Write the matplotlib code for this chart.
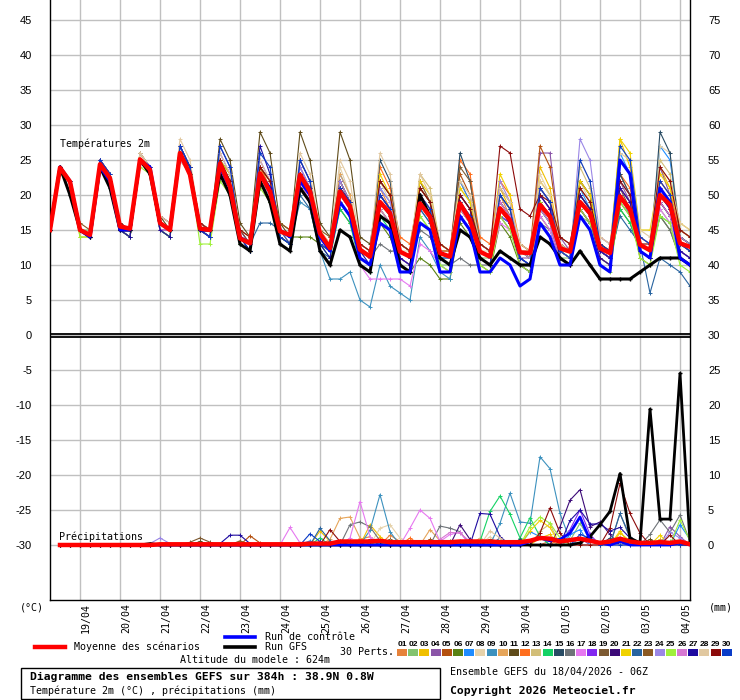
import numpy as np
import matplotlib
matplotlib.use('Agg')
import matplotlib.pyplot as plt
from matplotlib.lines import Line2D
from matplotlib.patches import Rectangle

# ---- data (6h steps from 18/04 06Z, 384h) ----
dates = ['19/04', '20/04', '21/04', '22/04', '23/04', '24/04', '25/04', '26/04',
         '27/04', '28/04', '29/04', '30/04', '01/05', '02/05', '03/05', '04/05']

member_colors = ['#E6823A', '#82C36E', '#F0C000', '#8B55A8', '#B4500F', '#5A8214',
                 '#1E8CFF', '#E6D2AA', '#3C91BE', '#E6A55A', '#5F4B19', '#FF6E1E',
                 '#D2BE78', '#14D264', '#284B64', '#6E7378', '#E678F0', '#8228F0',
                 '#7D5A32', '#3C0A78', '#F0D200', '#2864A0', '#8C5A23', '#9B87E6',
                 '#A0F03C', '#D778D2', '#1E0AA0', '#E1C8A0', '#8C0A0A', '#0A3CC8']

# temperature 2m, one string per member: t0 | then per day 12Z 18Z 00Z 06Z
temp_members = [
    "15 | 24 22 15 14 | 25 22 16 15 | 25 23 16 15 | 26 24 16 15 | 25 22 14 13 | 24 21 15 14 | 25 22 15 13 | 22 19 12 11 | 21 18 12 11 | 20 18 12 12 | 22 19 13 12 | 20 17 12 11 | 21 19 13 12 | 18 16 12 11 | 23 20 13 12 | 21 19 14 13",
    "15 | 24 22 15 15 | 24 22 15 15 | 25 23 16 15 | 26 23 15 14 | 23 21 14 13 | 22 19 14 13 | 21 19 13 12 | 19 17 11 10 | 18 16 11 10 | 17 15 10 10 | 18 16 11 11 | 17 15 11 10 | 18 16 11 11 | 17 16 12 11 | 19 17 12 11 | 18 16 11 10",
    "15 | 24 22 14 14 | 25 23 15 15 | 26 24 16 15 | 27 24 16 15 | 25 22 14 12 | 24 21 15 14 | 24 21 14 12 | 22 19 12 11 | 20 18 12 11 | 21 19 13 12 | 19 17 12 11 | 21 18 12 11 | 24 21 13 12 | 22 20 13 12 | 28 24 14 13 | 24 21 14 13",
    "15 | 24 22 15 14 | 25 23 15 15 | 25 24 16 15 | 26 24 16 15 | 25 22 14 13 | 23 20 15 14 | 22 20 14 12 | 21 18 12 11 | 19 17 11 10 | 20 18 12 11 | 18 16 12 11 | 17 15 11 11 | 26 26 14 12 | 20 18 12 11 | 22 19 13 12 | 24 20 14 13",
    "15 | 24 22 15 14 | 24 22 16 15 | 25 23 16 15 | 26 23 15 14 | 24 21 14 13 | 22 19 15 14 | 23 20 14 13 | 21 18 12 11 | 20 18 13 12 | 19 17 12 12 | 23 20 13 12 | 18 16 12 12 | 27 24 14 13 | 19 17 12 11 | 20 18 13 12 | 21 19 14 13",
    "15 | 24 22 15 14 | 24 22 15 14 | 25 23 15 14 | 26 23 15 14 | 23 21 14 13 | 22 20 15 14 | 14 14 13 12 | 18 16 11 10 | 16 14 10 9 | 11 10 8 8 | 16 14 10 9 | 16 14 10 9 | 17 15 11 10 | 18 16 11 10 | 18 16 12 11 | 17 15 11 10",
    "15 | 24 22 15 14 | 25 23 15 15 | 25 23 16 15 | 26 24 16 15 | 24 22 14 13 | 23 20 15 14 | 22 20 14 12 | 23 20 12 11 | 21 19 12 11 | 18 16 11 11 | 22 19 12 11 | 19 17 12 11 | 20 18 12 11 | 21 18 12 11 | 26 23 13 12 | 27 25 15 14",
    "15 | 24 22 15 14 | 24 23 15 15 | 26 24 16 15 | 27 24 16 15 | 24 22 14 13 | 24 21 15 14 | 24 21 14 13 | 24 20 12 11 | 22 19 12 12 | 22 19 13 12 | 20 18 12 12 | 20 18 12 12 | 23 20 13 12 | 22 19 13 12 | 23 20 13 13 | 27 26 15 14",
    "15 | 24 22 15 14 | 24 22 15 14 | 25 23 15 14 | 26 23 15 14 | 23 20 13 12 | 22 20 14 13 | 19 18 12 8 | 8 9 5 4 | 10 7 6 5 | 14 12 9 8 | 19 17 11 10 | 17 16 11 10 | 18 16 12 11 | 19 17 11 10 | 20 17 12 11 | 19 17 13 12",
    "15 | 23 22 15 14 | 24 22 16 15 | 25 23 16 15 | 25 23 16 15 | 24 22 15 14 | 24 21 16 15 | 21 20 14 13 | 23 20 13 12 | 19 17 12 11 | 20 18 12 11 | 18 17 12 11 | 20 18 13 12 | 19 17 13 12 | 21 19 13 12 | 20 18 14 13 | 22 20 15 14",
    "15 | 24 22 15 14 | 24 23 16 15 | 26 24 17 15 | 27 24 16 15 | 28 25 16 14 | 29 26 16 14 | 29 25 16 14 | 29 25 14 13 | 22 20 13 12 | 20 18 13 12 | 19 17 12 11 | 18 16 12 11 | 20 18 12 11 | 19 17 12 11 | 21 19 13 12 | 20 18 13 12",
    "15 | 24 22 15 14 | 25 23 16 15 | 25 23 16 15 | 26 24 16 15 | 24 21 14 13 | 24 21 15 13 | 23 21 14 12 | 21 19 12 11 | 24 21 14 13 | 21 19 13 12 | 25 23 14 13 | 22 20 13 12 | 20 18 12 12 | 22 20 14 13 | 23 21 14 13 | 22 20 15 14",
    "15 | 24 22 15 14 | 24 22 15 15 | 25 24 16 15 | 26 23 15 14 | 24 22 14 13 | 23 20 15 14 | 23 20 14 12 | 20 18 12 11 | 20 18 12 11 | 23 21 13 12 | 21 19 12 11 | 20 18 12 11 | 19 17 12 12 | 24 21 13 12 | 22 20 13 12 | 25 23 15 14",
    "15 | 24 22 15 14 | 24 22 15 14 | 25 23 15 14 | 26 23 15 14 | 23 20 13 12 | 22 19 14 13 | 21 19 13 11 | 18 16 10 9 | 17 15 10 9 | 16 15 10 9 | 18 16 11 10 | 17 16 11 10 | 18 16 11 10 | 17 15 11 10 | 18 16 12 11 | 17 16 12 11",
    "15 | 24 22 15 14 | 25 23 15 15 | 25 24 16 15 | 27 24 16 15 | 25 23 15 13 | 24 22 15 14 | 23 21 14 12 | 22 19 12 11 | 25 22 13 12 | 21 19 12 11 | 26 22 13 12 | 20 18 12 11 | 21 19 12 11 | 22 20 12 11 | 23 20 12 11 | 29 26 14 13",
    "15 | 24 22 15 14 | 24 22 15 14 | 25 23 15 14 | 26 23 15 14 | 23 21 14 13 | 22 20 14 13 | 21 19 13 12 | 19 17 12 11 | 13 12 12 11 | 15 14 11 10 | 11 10 10 10 | 18 16 12 11 | 16 15 11 10 | 18 16 12 11 | 19 17 12 11 | 17 15 11 10",
    "15 | 24 22 15 14 | 24 22 15 14 | 25 23 16 15 | 26 23 15 14 | 24 21 14 13 | 22 20 15 13 | 22 20 13 12 | 19 17 10 8 | 8 8 8 7 | 13 12 10 9 | 17 15 11 10 | 16 15 11 10 | 17 15 11 10 | 18 16 11 10 | 20 18 12 11 | 18 16 12 11",
    "15 | 24 22 15 14 | 25 23 16 15 | 25 24 17 16 | 27 24 16 15 | 26 23 15 13 | 25 22 15 14 | 24 21 14 12 | 22 19 12 11 | 20 18 12 11 | 19 17 12 11 | 18 16 12 11 | 17 16 12 11 | 20 18 13 12 | 19 17 12 11 | 21 19 13 12 | 20 18 13 12",
    "15 | 24 22 15 14 | 24 22 15 15 | 25 23 16 15 | 26 23 15 15 | 25 22 15 13 | 24 22 16 15 | 23 21 14 13 | 21 19 13 12 | 22 20 13 12 | 22 19 12 11 | 24 22 13 12 | 21 19 12 11 | 19 17 12 11 | 20 18 12 11 | 21 18 11 10 | 19 17 13 12",
    "15 | 24 22 15 14 | 24 22 15 14 | 25 23 15 15 | 26 23 15 14 | 24 21 14 12 | 23 21 14 13 | 22 20 13 12 | 20 18 11 10 | 18 16 11 10 | 19 17 11 10 | 17 15 11 10 | 18 16 10 9 | 19 17 11 10 | 18 16 11 10 | 20 18 12 11 | 19 17 12 11",
    "15 | 24 22 15 14 | 25 23 15 15 | 26 24 16 15 | 26 24 16 15 | 25 23 15 14 | 24 22 15 14 | 23 21 14 13 | 21 19 12 11 | 23 20 13 12 | 22 20 13 12 | 21 19 12 11 | 23 20 12 11 | 22 20 12 11 | 22 20 13 12 | 28 26 15 15 | 23 21 16 15",
    "15 | 24 22 15 14 | 24 22 15 14 | 25 23 15 14 | 26 23 15 14 | 23 21 14 13 | 16 16 15 13 | 20 18 12 11 | 21 18 12 11 | 19 17 12 11 | 18 16 11 11 | 20 18 12 11 | 19 17 11 10 | 18 16 11 10 | 20 18 12 11 | 17 15 13 6 | 11 10 9 7",
    "15 | 24 22 16 15 | 24 23 16 15 | 25 24 17 16 | 27 24 16 15 | 25 22 15 14 | 24 22 16 15 | 23 21 15 14 | 22 19 13 12 | 20 18 13 12 | 21 19 13 12 | 20 18 13 12 | 19 17 13 12 | 21 19 13 12 | 20 18 13 12 | 21 19 13 12 | 21 19 14 13",
    "15 | 24 22 15 14 | 25 23 15 15 | 26 24 16 15 | 27 24 16 15 | 24 22 14 13 | 23 21 15 14 | 24 21 14 12 | 22 19 12 11 | 21 19 12 11 | 20 18 12 11 | 19 17 12 11 | 22 19 12 11 | 21 19 12 11 | 28 25 14 13 | 22 20 14 13 | 21 19 14 13",
    "15 | 24 22 14 14 | 24 22 15 14 | 24 23 15 14 | 25 23 13 13 | 22 20 13 12 | 21 19 14 13 | 21 19 13 12 | 19 17 11 10 | 18 16 10 9 | 17 15 10 9 | 18 16 10 9 | 17 15 10 9 | 19 17 11 10 | 18 16 10 9 | 19 17 11 10 | 17 16 10 9",
    "15 | 24 22 15 14 | 24 22 15 15 | 25 23 15 15 | 25 23 15 14 | 24 21 14 13 | 23 21 15 14 | 22 19 14 12 | 20 18 12 11 | 18 16 11 10 | 19 17 11 10 | 18 16 11 10 | 19 17 11 10 | 18 16 11 10 | 19 17 12 11 | 21 19 13 12 | 19 17 12 11",
    "15 | 24 22 15 14 | 25 23 15 14 | 25 23 15 14 | 27 24 15 14 | 27 24 14 12 | 27 23 14 13 | 25 22 13 11 | 21 19 12 10 | 20 18 11 10 | 19 17 11 10 | 20 18 11 10 | 18 16 11 10 | 20 18 11 10 | 20 18 12 11 | 21 19 12 11 | 20 18 12 11",
    "15 | 24 22 15 14 | 24 23 16 15 | 26 24 17 16 | 28 25 16 15 | 26 23 15 14 | 25 22 15 14 | 26 23 15 13 | 25 22 13 12 | 26 23 13 12 | 23 20 13 12 | 22 20 13 12 | 21 19 13 12 | 22 20 13 12 | 25 22 14 13 | 26 25 15 14 | 24 22 16 15",
    "15 | 24 22 15 14 | 24 22 16 15 | 25 24 16 15 | 26 24 16 15 | 25 22 15 14 | 24 22 15 14 | 23 21 14 13 | 21 19 13 12 | 22 20 13 12 | 21 19 13 12 | 20 18 13 12 | 27 26 18 17 | 20 19 14 13 | 21 19 13 12 | 22 20 13 13 | 24 22 15 14",
    "15 | 24 22 15 14 | 25 23 15 15 | 25 24 16 15 | 27 24 15 14 | 27 24 14 12 | 26 24 14 13 | 25 22 13 12 | 21 19 11 10 | 20 18 12 11 | 20 18 11 10 | 19 17 11 10 | 20 18 11 10 | 21 19 12 11 | 25 22 13 12 | 27 25 14 13 | 22 20 13 12",
]
temp_control = "15 | 24 22 15 14 | 24 22 15 15 | 25 24 16 15 | 26 23 15 15 | 24 21 14 13 | 23 21 15 14 | 22 20 14 12 | 19 17 11 10 | 16 15 9 9 | 16 15 9 9 | 17 15 9 9 | 11 10 7 8 | 16 14 10 10 | 17 15 10 9 | 25 23 12 11 | 21 19 11 10"
temp_gfs = "15 | 24 20 15 14 | 24 21 15 15 | 25 23 16 15 | 26 23 15 15 | 23 20 13 12 | 22 19 13 12 | 21 19 12 10 | 15 14 10 9 | 17 16 10 9 | 20 17 11 10 | 15 14 11 10 | 12 11 10 10 | 14 13 11 10 | 12 10 8 8 | 8 8 9 10 | 11 11 11 10"
temp_mean = [15, 23.9, 21.9, 15, 14.3, 24.4, 22.4, 15.5, 15.2, 25.1, 23.6, 16, 15, 26, 22.9,
             15.2, 15, 24.5, 21.2, 13.8, 13.1, 23.1, 20.5, 14.8, 14.3, 22.9, 20.5, 14.5,
             12.4, 20.5, 18.3, 12.2, 11.2, 19, 17.4, 11.9, 11.2, 18.8, 16.9, 11.7, 11.2,
             18.8, 16.4, 11.9, 11.2, 18.1, 16.4, 11.8, 11.7, 18.6, 16.9, 12.4, 11.9, 19,
             17.4, 12.4, 11.7, 19.8, 17.9, 12.9, 12.1, 20, 18.6, 13.1, 12.6]

# precipitation (mm per 6h), step:value, steps 1..64, zero elsewhere
precip_members = [
    "31:0.8 32:1.2 34:1.4 35:0.5 50:0.6 57:0.8",
    "52:0.6 53:3.1 54:0.8 62:0.5",
    "27:2.0 28:0.5 32:2.9 33:1.2 49:1.0 50:1.5 57:1.7 58:0.6 61:0.8",
    "41:0.6 53:1.0 62:2.6 63:1.2",
    "20:1.3 21:0.3 38:0.8 56:0.7",
    "40:0.5 44:0.8 58:0.6",
    "26:0.6 48:1.9 49:1.2 52:1.5 53:2.2 63:2.9 64:0.8",
    "33:2.4 34:2.9 35:1.0 44:1.2",
    "32:2.1 33:7.2 34:1.9 45:3.1 46:7.4 47:3.3 48:3.1 49:12.6 50:10.9 51:4.5 52:0.7",
    "28:0.8 29:3.8 30:4.0 31:1.0 38:2.2 39:0.6",
    "15:0.5 44:0.6 60:0.8",
    "30:0.6 36:1.0 51:1.0 61:0.5",
    "35:0.5 43:1.0 49:2.0 50:3.0",
    "27:1.0 43:0.5 44:4.8 45:7.0 46:4.4 47:1.0 48:3.9 49:1.2 57:1.0",
    "32:0.8 47:0.8 56:1.0",
    "30:2.9 31:3.3 32:2.6 33:0.6 39:2.7 40:2.4 41:1.9 57:4.5 58:1.0 60:1.5 61:3.6 62:1.8 63:4.3 64:0.5",
    "24:2.5 25:0.3 30:1.0 31:6.2 32:1.2 36:2.4 37:5.0 38:3.8 39:0.5 40:1.5 41:1.8",
    "52:2.2 53:5.0 54:1.5 61:0.6",
    "14:0.4 15:1.0 16:0.4 42:0.6",
    "41:2.9 42:0.8 51:2.6 52:6.4 53:7.9 54:2.6 55:3.3 56:1.5",
    "33:0.8 48:2.0 49:3.5 50:2.5 57:2.0 61:1.4",
    "27:2.4 28:0.6 45:1.0 57:4.5 58:1.2",
    "19:0.6 34:0.8 38:0.7",
    "10:0.2 11:1.0 12:0.2 62:1.8 63:1.0",
    "48:2.6 49:4.0 50:3.1 51:1.0 63:3.6 64:0.6",
    "39:0.8 40:1.8 41:1.7 42:0.5",
    "17:0.2 18:1.4 19:1.4 20:0.2 43:4.5 44:4.4 45:1.2 52:3.5 53:5.0 54:3.0 55:3.0 56:2.0 57:2.5 58:1.0",
    "34:0.6 44:2.0 45:1.0",
    "28:2.2 29:0.5 49:1.7 50:5.3 51:1.7 56:2.4 57:8.8 58:4.5 59:1.7 62:1.4",
    "26:1.6 27:0.5 53:1.5 54:1.0",
]
precip_control = "48:0.5 49:1.0 50:0.6 51:0.8 52:1.7 53:4.0 54:0.7 55:0.3 57:0.5 63:0.3"
precip_gfs = "10:0.2 53:0.3 54:1.2 55:2.9 56:4.8 57:10.2 58:1.0 59:0.3 60:19.4 61:3.7 62:3.7 63:24.5 64:0.3"
precip_mean = [0, 0, 0, 0, 0, 0, 0, 0, 0, 0,
               0.1, 0.1, 0.1, 0.1, 0.1, 0.1, 0.1, 0.1, 0.1, 0.1, 0.1, 0.1, 0.1, 0.1, 0.1,
               0.2, 0.2, 0.2, 0.5, 0.5, 0.5, 0.5, 0.6,
               0.4, 0.4, 0.4, 0.4, 0.4, 0.4, 0.4, 0.5, 0.5, 0.5, 0.5, 0.4, 0.4, 0.4,
               0.6, 1.0, 0.9, 0.5, 0.7, 0.9, 0.6, 0.3, 0.5, 0.9, 0.5, 0.3, 0.3, 0.4,
               0.3, 0.5, 0.1]


def parse(s):
    return np.array([float(v) for v in s.replace('|', ' ').split()])


def sparse(s, n=64):
    arr = np.zeros(n)
    for item in s.split():
        step, val = item.split(':')
        arr[int(step) - 1] = float(val)
    return arr


W, H = 740, 700
RR0 = -30  # precipitation zero sits at -30 on the temperature scale
MONO = 'DejaVu Sans Mono'

fig = plt.figure(figsize=(W / 100, H / 100), dpi=100)
ax = fig.add_axes([50 / W, 100 / H, 640 / W, 600 / H])

t_tt = np.arange(65)
t_rr = np.arange(1, 65)

for k in range(30):
    c = member_colors[k]
    ax.plot(t_tt, parse(temp_members[k]), color=c, lw=0.8, marker='+', ms=3.5, mew=0.7, zorder=2)
    ax.plot(t_rr, sparse(precip_members[k]) + RR0, color=c, lw=0.8, marker='+', ms=3.5, mew=0.7, zorder=2)

ax.plot(t_tt, parse(temp_gfs), color='black', lw=2.2, marker='+', ms=3.5, zorder=3)
ax.plot(t_rr, sparse(precip_gfs) + RR0, color='black', lw=2.0, marker='+', ms=3.5, zorder=3)
ax.plot(t_tt, parse(temp_control), color='#0000FF', lw=2.2, zorder=4)
ax.plot(t_rr, sparse(precip_control) + RR0, color='#0000FF', lw=2.0, zorder=4)
ax.plot(t_tt, temp_mean, color='#FF0000', lw=3.2, zorder=5)
ax.plot(t_rr, np.array(precip_mean) + RR0, color='#FF0000', lw=3.2, zorder=5)

# separator between the two panels
ax.axhline(0.15, color='black', lw=1.3, zorder=6)
ax.axhline(-0.3, color='black', lw=1.3, zorder=6)

ymin, ymax = -37.86, 47.86
ax.set_xlim(0, 64)
ax.set_ylim(ymin, ymax)

yt = np.arange(-30, 46, 5)
ax.set_yticks(yt)
ax.set_yticklabels([str(v) for v in yt], family='Liberation Sans')
ax.set_xticks(np.arange(3, 64, 4))
ax.set_xticklabels([])
ax.grid(True, color='#C0C0C0', lw=1)
ax.set_axisbelow(True)
ax.tick_params(axis='y', length=0, pad=13, labelsize=8)
ax.tick_params(axis='x', length=0)
for side in ['left', 'right', 'bottom']:
    ax.spines[side].set_color('black')
    ax.spines[side].set_linewidth(1)
ax.spines['top'].set_visible(False)

ax2 = ax.twinx()
ax2.set_ylim(ymin, ymax)
ax2.set_yticks(yt)
ax2.set_yticklabels([str(v + 30) for v in yt], family='Liberation Sans')
ax2.tick_params(axis='y', length=0, pad=13, labelsize=8)
for s in ax2.spines.values():
    s.set_visible(False)

for i, d in enumerate(dates):
    ax.annotate(d, xy=(3 + 4 * i, 0), xycoords=('data', 'axes fraction'),
                xytext=(4.5, -2), textcoords='offset points', rotation=90,
                ha='center', va='top', family=MONO, fontsize=7.2)

ax.text(1.0, 27.3, 'Températures 2m', family=MONO, fontsize=7.2, va='center', zorder=7)
ax.text(0.9, -28.85, 'Précipitations', family=MONO, fontsize=7.2, va='center', zorder=7)


def fx(x):
    return x / W


def fy(y):
    return 1 - y / H


fig.text(fx(32), fy(607), '(°C)', family=MONO, fontsize=7.2, ha='center', va='center')
fig.text(fx(721), fy(607), '(mm)', family=MONO, fontsize=7.2, ha='center', va='center')

# legend
fig.add_artist(Line2D([fx(35), fx(65)], [fy(647), fy(647)], color='#FF0000', lw=3.2))
fig.text(fx(74), fy(647), 'Moyenne des scénarios', family=MONO, fontsize=7.2, va='center')
fig.add_artist(Line2D([fx(225), fx(255)], [fy(637), fy(637)], color='#0000FF', lw=2.6))
fig.text(fx(265), fy(637), 'Run de contrôle', family=MONO, fontsize=7.2, va='center')
fig.add_artist(Line2D([fx(225), fx(255)], [fy(647), fy(647)], color='black', lw=2.6))
fig.text(fx(265), fy(647.5), 'Run GFS', family=MONO, fontsize=7.2, va='center')
fig.text(fx(340), fy(652), '30 Perts.', family=MONO, fontsize=7.2, va='center')
fig.text(fx(180), fy(660), 'Altitude du modele : 624m', family=MONO, fontsize=7.2, va='center')

for k in range(30):
    x0 = 397 + k * 11.2
    fig.text(fx(x0 + 5), fy(644), '%02d' % (k + 1), family='Liberation Sans', fontsize=6,
             fontweight='bold', ha='center', va='center')
    fig.add_artist(Rectangle((fx(x0), fy(656)), 10 / W, 7 / H, transform=fig.transFigure,
                             facecolor=member_colors[k], edgecolor='none'))

fig.add_artist(Rectangle((fx(21), fy(699)), 419 / W, 31 / H, transform=fig.transFigure,
                         facecolor='none', edgecolor='black', lw=1))
fig.text(fx(30), fy(677), 'Diagramme des ensembles GEFS sur 384h : 38.9N 0.8W', family=MONO,
         fontsize=8.2, fontweight='bold', va='center')
fig.text(fx(30), fy(691), 'Température 2m (°C) , précipitations (mm)', family=MONO,
         fontsize=7.2, va='center')
fig.text(fx(450), fy(672), 'Ensemble GEFS du 18/04/2026 - 06Z', family=MONO, fontsize=7.2, va='center')
fig.text(fx(450), fy(691), 'Copyright 2026 Meteociel.fr', family=MONO, fontsize=8.2,
         fontweight='bold', va='center')

fig.savefig('out.png', dpi=100)
